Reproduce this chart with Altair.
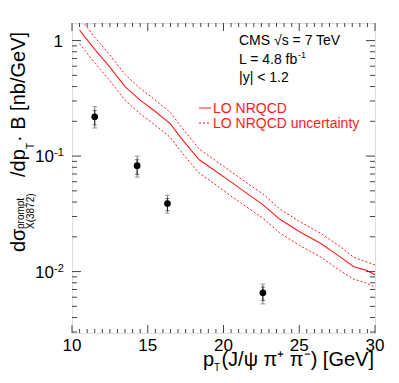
import altair as alt
import pandas as pd
import numpy as np

# ---------------- data ----------------
pt_curve = [10.5, 11.5, 12.5, 13.5, 14.5, 15.5, 16.5, 17.2, 18.4, 19.3, 20.4, 21.5,
            22.6, 23.7, 25.0, 26.4, 27.7, 28.6, 29.4, 30.0]
nrqcd = [1.23, 0.84, 0.59, 0.40, 0.305, 0.243, 0.19, 0.143, 0.093, 0.077, 0.061, 0.048,
         0.038, 0.0285, 0.0222, 0.0176, 0.0134, 0.011, 0.0103, 0.0094]
nrqcd_up = [1.58, 1.07, 0.75, 0.51, 0.385, 0.305, 0.238, 0.18, 0.115, 0.095, 0.075, 0.059,
            0.047, 0.035, 0.0272, 0.0215, 0.0165, 0.0133, 0.0122, 0.0114]
nrqcd_lo = [0.94, 0.64, 0.45, 0.305, 0.232, 0.185, 0.145, 0.109, 0.071, 0.059, 0.046, 0.0365,
            0.029, 0.0217, 0.0169, 0.0134, 0.0102, 0.0086, 0.008, 0.0073]

pt_data = [11.5, 14.3, 16.3, 22.6]
xsec = [0.219, 0.0826, 0.0388, 0.00656]
stat_lo = [0.186, 0.0695, 0.0337, 0.00563]
stat_hi = [0.248, 0.093, 0.0429, 0.00735]
tot_lo = [0.175, 0.0658, 0.0321, 0.00525]
tot_hi = [0.268, 0.100, 0.0458, 0.0078]

x_major = [10, 15, 20, 25, 30]
x_labels = ["10", "15", "20", "25", "30"]
y_major = [1.0, 0.1, 0.01]
y_label_exp = ["", "-1", "-2"]

# ---------------- layout ----------------
W, H = 303, 310
FONT = "Liberation Sans"
xs = alt.Scale(domain=[10, 30], nice=False, zero=False)
ys = alt.Scale(type="log", domain=[0.00294, 1.42], nice=False)

x_minor = [float(v) for v in np.arange(10, 30.001, 0.5) if v not in x_major]
y_minor = [m * 10.0 ** k for k in range(-3, 1) for m in range(2, 10)
           if 0.00294 < m * 10.0 ** k < 1.42]

curves = pd.DataFrame({"pt": pt_curve, "c": nrqcd, "up": nrqcd_up, "lo": nrqcd_lo})
pts = pd.DataFrame({"pt": pt_data, "y": xsec, "slo": stat_lo, "shi": stat_hi,
                    "tlo": tot_lo, "thi": tot_hi})

RED = "#ff1a1a"
base_c = alt.Chart(curves)
central = base_c.mark_line(color=RED, strokeWidth=1.1, clip=True).encode(
    x=alt.X("pt:Q", scale=xs, axis=None), y=alt.Y("c:Q", scale=ys, axis=None))
upper = base_c.mark_line(color=RED, strokeWidth=1, strokeDash=[2, 2], clip=True).encode(
    x=alt.X("pt:Q", scale=xs), y=alt.Y("up:Q", scale=ys))
lower = base_c.mark_line(color=RED, strokeWidth=1, strokeDash=[2, 2], clip=True).encode(
    x=alt.X("pt:Q", scale=xs), y=alt.Y("lo:Q", scale=ys))

base_p = alt.Chart(pts)
tot_bar = base_p.mark_rule(color="#777", strokeWidth=1).encode(
    x=alt.X("pt:Q", scale=xs), y=alt.Y("tlo:Q", scale=ys), y2="thi:Q")
tot_cap_lo = base_p.mark_tick(color="#777", orient="horizontal", size=5, thickness=1).encode(
    x=alt.X("pt:Q", scale=xs), y=alt.Y("tlo:Q", scale=ys))
tot_cap_hi = base_p.mark_tick(color="#777", orient="horizontal", size=5, thickness=1).encode(
    x=alt.X("pt:Q", scale=xs), y=alt.Y("thi:Q", scale=ys))
stat_bar = base_p.mark_rule(color="#222", strokeWidth=1).encode(
    x=alt.X("pt:Q", scale=xs), y=alt.Y("slo:Q", scale=ys), y2="shi:Q")
stat_cap_lo = base_p.mark_tick(color="#333", orient="horizontal", size=4, thickness=1).encode(
    x=alt.X("pt:Q", scale=xs), y=alt.Y("slo:Q", scale=ys))
stat_cap_hi = base_p.mark_tick(color="#333", orient="horizontal", size=4, thickness=1).encode(
    x=alt.X("pt:Q", scale=xs), y=alt.Y("shi:Q", scale=ys))
markers = base_p.mark_circle(color="black", size=45, opacity=1).encode(
    x=alt.X("pt:Q", scale=xs), y=alt.Y("y:Q", scale=ys))

TICK = "#444"


def xticks(vals, length):
    d = pd.DataFrame({"v": vals})
    b = alt.Chart(d).mark_rule(color=TICK, strokeWidth=1).encode(
        x=alt.X("v:Q", scale=xs), y=alt.value(H), y2=alt.value(H - length))
    t = alt.Chart(d).mark_rule(color=TICK, strokeWidth=1).encode(
        x=alt.X("v:Q", scale=xs), y=alt.value(0), y2=alt.value(length))
    return [b, t]


def yticks(vals, length):
    d = pd.DataFrame({"v": vals})
    l = alt.Chart(d).mark_rule(color=TICK, strokeWidth=1).encode(
        y=alt.Y("v:Q", scale=ys), x=alt.value(0), x2=alt.value(length))
    r = alt.Chart(d).mark_rule(color=TICK, strokeWidth=1).encode(
        y=alt.Y("v:Q", scale=ys), x=alt.value(W), x2=alt.value(W - length))
    return [l, r]


tick_layers = xticks(x_major, 8) + xticks(x_minor, 4) + yticks(y_major, 9) + yticks(y_minor, 5)

# tick labels
xl = alt.Chart(pd.DataFrame({"v": x_major, "t": x_labels})).mark_text(
    font=FONT, fontSize=17, align="center", baseline="alphabetic", color="black").encode(
    x=alt.X("v:Q", scale=xs), y=alt.value(H + 18), text="t:N")
ylab_df = pd.DataFrame({"v": y_major, "e": y_label_exp,
                        "m": ["1" if e == "" else "10" for e in y_label_exp]})
yl_ten = alt.Chart(ylab_df[ylab_df["e"] != ""]).mark_text(
    font=FONT, fontSize=17, align="right", baseline="alphabetic", color="black", dy=6).encode(
    y=alt.Y("v:Q", scale=ys), x=alt.value(-18), text="m:N")
yl_exp = alt.Chart(ylab_df[ylab_df["e"] != ""]).mark_text(
    font=FONT, fontSize=11, align="left", baseline="alphabetic", color="black", dy=0).encode(
    y=alt.Y("v:Q", scale=ys), x=alt.value(-18), text="e:N")
yl_one = alt.Chart(ylab_df[ylab_df["e"] == ""]).mark_text(
    font=FONT, fontSize=17, align="right", baseline="alphabetic", color="black", dy=6).encode(
    y=alt.Y("v:Q", scale=ys), x=alt.value(-9), text="m:N")


def label(text, x, y, size, color="black", angle=0, align="left"):
    return alt.Chart(pd.DataFrame({"t": [text]})).mark_text(
        font=FONT, fontSize=size, color=color, angle=angle, align=align,
        baseline="alphabetic").encode(x=alt.value(x), y=alt.value(y), text="t:N")


ox, oy = 72, 23  # page position of plot origin
texts = [
    label("CMS  \u221as = 7 TeV", 239 - ox, 45 - oy, 14),
    label("L = 4.8 fb", 239 - ox, 64 - oy, 14),
    label("-1", 298 - ox, 58 - oy, 9),
    label("|y| < 1.2", 239 - ox, 82 - oy, 14),
    label("LO NRQCD", 213 - ox, 113 - oy, 14, color=RED),
    label("LO NRQCD uncertainty", 213 - ox, 128 - oy, 14, color=RED),
    # x title
    label("p", 203 - ox, 366 - oy, 20),
    label("T", 214 - ox, 371 - oy, 10),
    label("(J/\u03c8 \u03c0\u207a \u03c0\u207b) [GeV]", 374 - ox, 366 - oy, 20, align="right"),
    # y title (rotated)
    label("d\u03c3", 25 - ox, 252 - oy, 20, angle=270),
    label("prompt", 24 - ox, 229 - oy, 10, angle=270),
    label("X(3872)", 34 - ox, 229 - oy, 10, angle=270),
    label("/dp", 25 - ox, 177 - oy, 20, angle=270),
    label("T", 34 - ox, 149 - oy, 10, angle=270),
    label(" \u00b7 B [nb/GeV]", 25 - ox, 142 - oy, 20, angle=270),
]

legend_lines = [
    alt.Chart(pd.DataFrame({"a": [0]})).mark_rule(color=RED, strokeWidth=1).encode(
        x=alt.value(199 - ox), x2=alt.value(211 - ox), y=alt.value(108 - oy)),
    alt.Chart(pd.DataFrame({"a": [0]})).mark_rule(color=RED, strokeWidth=1, strokeDash=[2, 2]).encode(
        x=alt.value(199 - ox), x2=alt.value(211 - ox), y=alt.value(123 - oy)),
]

chart = alt.layer(
    central, upper, lower,
    tot_bar, tot_cap_lo, tot_cap_hi, stat_bar, stat_cap_lo, stat_cap_hi, markers,
    *tick_layers, xl, yl_one, yl_ten, yl_exp, *legend_lines, *texts
).properties(
    width=W, height=H,
    autosize=alt.AutoSizeParams(type="none"),
    padding={"left": 64, "top": 15, "right": 16, "bottom": 42},
).configure_view(stroke="#444", strokeWidth=1.5).configure(background="white")

chart.save("out.html", embed_options={"renderer": "svg", "actions": False})
